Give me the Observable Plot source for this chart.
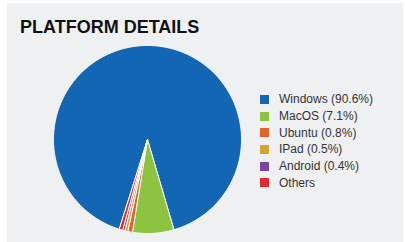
<!DOCTYPE html>
<html>
<head>
<meta charset="utf-8">
<script src="https://cdn.jsdelivr.net/npm/d3@7"></script>
<script src="https://cdn.jsdelivr.net/npm/@observablehq/plot@0.6"></script>
<style>
  html, body { margin: 0; padding: 0; background: #ffffff; width: 405px; height: 242px; overflow: hidden; }
  #card { position: absolute; left: 7px; top: 3px; width: 396px; height: 239px; background: #eff0f2; }
  #title { position: absolute; left: 20px; top: 17px; font: bold 18px "Liberation Sans", Arial, sans-serif; color: #111; letter-spacing: 0; white-space: nowrap; }
  #pie { position: absolute; left: 51.7px; top: 44px; }
  #legend { position: absolute; left: 260px; top: 91px; font: 12px "Liberation Sans", Arial, sans-serif; color: #333; }
  .item { display: flex; align-items: center; height: 16.7px; white-space: nowrap; }
  .sw { width: 9px; height: 9px; margin-right: 10px; }
</style>
</head>
<body>
<div id="card"></div>
<div id="title">PLATFORM DETAILS</div>
<div id="pie"></div>
<div id="legend"></div>
<script>
const names = ["Windows", "MacOS", "Ubuntu", "iPad", "Android", "Others"];
const shares = [90.6, 7.1, 0.8, 0.5, 0.4, 0.6];
const labels = ["Windows (90.6%)", "MacOS (7.1%)", "Ubuntu (0.8%)", "IPad (0.5%)", "Android (0.4%)", "Others"];
const colors = ["#1266b4", "#8cc43f", "#e5612c", "#d4a42c", "#7a46a0", "#e32a2a"];
const startDeg = 197.5;

const pie = d3.pie().sort(null).value(d => d.share)
  .startAngle(startDeg * Math.PI / 180).endAngle((startDeg + 360) * Math.PI / 180);
const arcs = pie(names.map((n, i) => ({name: n, share: shares[i]})));
const pts = [];
for (const a of arcs) {
  const n = Math.max(2, Math.ceil((a.endAngle - a.startAngle) / (Math.PI / 360)));
  pts.push({name: a.data.name, x: 0, y: 0});
  for (let k = 0; k <= n; k++) {
    const t = a.startAngle + (a.endAngle - a.startAngle) * k / n;
    pts.push({name: a.data.name, x: Math.sin(t), y: Math.cos(t)});
  }
  pts.push({name: a.data.name, x: 0, y: 0});
}

const chart = Plot.plot({
  width: 190, height: 190,
  margin: 1,
  x: {domain: [-1, 1], axis: null},
  y: {domain: [-1, 1], axis: null},
  color: {domain: names, range: colors},
  style: {background: "transparent", overflow: "visible"},
  marks: [
    Plot.line(pts, {x: "x", y: "y", z: "name", fill: "name", stroke: "white", strokeWidth: 1, strokeLinejoin: "round", curve: "linear"})
  ]
});
document.getElementById("pie").appendChild(chart);

const leg = document.getElementById("legend");
names.forEach((n, i) => {
  const it = document.createElement("div");
  it.className = "item";
  const sw = document.createElement("div");
  sw.className = "sw";
  sw.style.background = colors[i];
  const tx = document.createElement("span");
  tx.textContent = labels[i];
  it.appendChild(sw); it.appendChild(tx);
  leg.appendChild(it);
});
</script>
</body>
</html>
